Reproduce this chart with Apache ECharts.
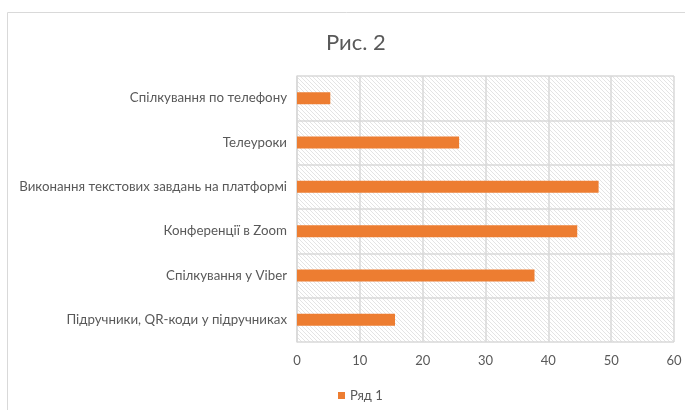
<!DOCTYPE html>
<html>
<head>
<meta charset="utf-8">
<script src="https://cdn.jsdelivr.net/npm/echarts@6/dist/echarts.min.js"></script>
<style>
  html, body { margin: 0; padding: 0; background: #fff; }
  #chart { width: 685px; height: 410px; }
</style>
</head>
<body>
<div id="chart"></div>
<script>
// bottom-to-top order, as the category axis draws them
let categories = [
  'Підручники, QR-коди у підручниках',
  'Спілкування у Viber',
  'Конференції в Zoom',
  'Виконання текстових завдань на платформі',
  'Телеуроки',
  'Спілкування по телефону'
]
let values = [15.6, 37.8, 44.6, 48, 25.8, 5.3]
let xTicks = [0, 10, 20, 30, 40, 50, 60]

// diagonal hatch for the plot area
function hatch () {
  let c = document.createElement('canvas')
  c.width = 4
  c.height = 4
  let ctx = c.getContext('2d')
  ctx.fillStyle = '#ffffff'
  ctx.fillRect(0, 0, 4, 4)
  ctx.strokeStyle = '#e4e4e4'
  ctx.lineWidth = 1
  ctx.beginPath()
  ctx.moveTo(-1, -1)
  ctx.lineTo(5, 5)
  ctx.moveTo(-1, 3)
  ctx.lineTo(1, 5)
  ctx.moveTo(3, -1)
  ctx.lineTo(5, 1)
  ctx.stroke()
  return c
}

let myChart = echarts.init(document.getElementById('chart'))
let font = 'Lato, "Open Sans", sans-serif'
let option = {
  animation: false,
  title: {
    text: 'Рис. 2',
    left: 321,
    top: 27,
    textStyle: { fontFamily: font, fontSize: 22, fontWeight: 'normal', color: '#595959' }
  },
  graphic: [{
    type: 'rect',
    shape: { x: 7.5, y: 12.5, width: 700, height: 420 },
    style: { fill: 'none', stroke: '#d9d9d9', lineWidth: 1 },
    silent: true
  }],
  legend: {
    data: ['Ряд 1'],
    left: 333,
    top: 384,
    icon: 'rect',
    itemWidth: 7,
    itemHeight: 7,
    itemGap: 4,
    textStyle: { fontFamily: font, fontSize: 13, color: '#595959' }
  },
  grid: {
    left: 297,
    right: 11,
    top: 76,
    bottom: 68,
    containLabel: false,
    show: true,
    borderWidth: 0,
    backgroundColor: { image: hatch(), repeat: 'repeat' }
  },
  xAxis: {
    type: 'value',
    min: 0,
    max: 60,
    interval: 10,
    axisLine: { show: false },
    axisTick: { show: false },
    axisLabel: {
      margin: 12,
      fontFamily: font,
      fontSize: 13,
      color: '#595959',
      formatter: function (v) { return xTicks.indexOf(v) >= 0 ? String(v) : '' }
    },
    splitLine: { show: true, lineStyle: { color: '#d9d9d9', width: 1.5 } }
  },
  yAxis: {
    type: 'category',
    data: categories,
    axisLine: { show: true, lineStyle: { color: '#d9d9d9', width: 1.5 } },
    axisTick: { show: false },
    axisLabel: { margin: 10, fontFamily: font, fontSize: 13.3, color: '#595959' },
    splitLine: { show: true, lineStyle: { color: '#d9d9d9', width: 1.5 } }
  },
  series: [{
    name: 'Ряд 1',
    type: 'bar',
    data: values,
    barWidth: 12,
    itemStyle: { color: '#ED7D31' }
  }]
}
myChart.setOption(option)
window.addEventListener('resize', function () {
  myChart.resize()
})
</script>
</body>
</html>
